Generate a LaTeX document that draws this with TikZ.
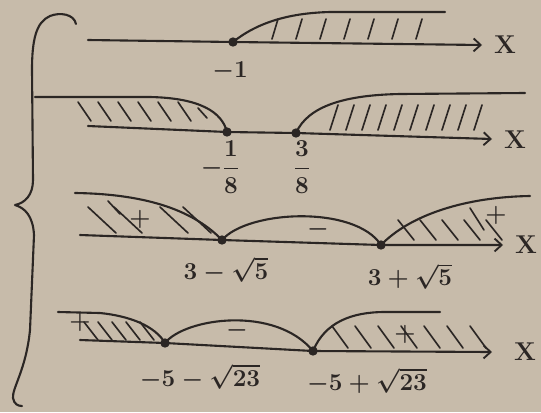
\documentclass[tikz,border=0pt]{standalone}
\usepackage{amsmath}
\usetikzlibrary{arrows.meta,positioning}
\definecolor{Paper}{HTML}{C7BBAA}
\definecolor{Ink}{HTML}{2B2624}

\begin{document}
\begin{tikzpicture}[
  x=0.03cm, y=-0.03cm,
  pen/.style   = {draw=Ink, line width=1.8pt, line cap=round, line join=round},
  axis/.style  = {pen, -{Straight Barb[length=6pt, width=11pt, line width=1.6pt]}},
  hatch/.style = {draw=Ink, line width=1.4pt, line cap=round},
  dot/.style   = {circle, fill=Ink, inner sep=0pt, minimum size=8pt},
  lbl/.style   = {font=\fontsize{22}{26}\selectfont\bfseries\boldmath, text=Ink, inner sep=1pt},
  sgn/.style   = {font=\fontsize{20}{22}\selectfont\boldmath, text=Ink, inner sep=0pt}
]
\fill[Paper] (0,0) rectangle (541,412);
\useasboundingbox (0,0) rectangle (541,412);

%% ---- the brace joining the four conditions -----------------------------
\draw[pen] (76,24) .. controls (74,14) and (60,12) .. (50,16)
  .. controls (36,22) and (32,40) .. (32,70) -- (33,180)
  .. controls (33,195) and (25,203) .. (15,205)
  .. controls (25,208) and (33,216) .. (34,235) -- (30,330)
  .. controls (26,370) and (12,388) .. (13,398)
  .. controls (14,404) and (18,406) .. (22,406);

%% ---- row 1: x >= -1 -----------------------------------------------------
\coordinate (a1) at (233,42);
\draw[axis] (88,40) -- (a1) -- (482,45);
\node[lbl] (xa) at (505,45) {X};
\draw[pen] (a1) .. controls (258,22) and (290,13) .. (330,12) -- (445,12);
\foreach \h in {272,296,...,420}
  \draw[hatch] (\h,39) -- (\h+6,19);
\node[dot] (pa1) at (a1) {};
\node[lbl] (la1) at (230,71) {$-1$};

%% ---- row 2: x <= -1/8 or x >= 3/8 ---------------------------------------
\coordinate (b1) at (227,132);
\coordinate (b2) at (296,133);
\draw[axis] (88,126) -- (b1) -- (b2) -- (492,139);
\node[lbl] (xb) at (515,140) {X};
\draw[pen] (35,97) -- (150,97) .. controls (200,98) and (222,112) .. (b1);
\foreach \h in {78,98,...,178}
  \draw[hatch] (\h,102) -- (\h+13,121);
\draw[hatch] (198,108) -- (207,118);
\draw[pen] (b2) .. controls (308,106) and (345,95) .. (400,94) -- (525,93);
\foreach \h in {330,346,...,474}
  \draw[hatch] (\h,130) -- (\h+8,105);
\node[dot] (pb1) at (b1) {};
\node[dot] (pb2) at (b2) {};
\node[lbl] (lb1) at (220,167) {$-\dfrac{1}{8}$};
\node[lbl] (lb2) at (302,167) {$\dfrac{3}{8}$};

%% ---- row 3: signs of the quadratic with roots 3 -+ sqrt5 ----------------
\coordinate (c1) at (222,240);
\coordinate (c2) at (381,245);
\draw[axis] (80,235) -- (c1) -- (c2) -- (503,245);
\node[lbl] (xc) at (526,245) {X};
\draw[pen] (75,193) .. controls (150,194) and (195,212) .. (c1);
\draw[pen] (c1) .. controls (248,210) and (355,205) .. (c2);
\draw[pen] (c2) .. controls (410,215) and (465,197) .. (530,196);
\foreach \h in {88,114,160,183}
  \draw[hatch] (\h,207) -- (\h+28,233);
\draw[hatch] (108,201) -- (120,214);
\foreach \h in {398,420,...,486}
  \draw[hatch] (\h,220) -- (\h+16,240);
\draw[hatch] (470,208) -- (484,230);
\node[sgn] (pc1) at (140,219) {$+$};
\node[sgn] (mc) at (318,229) {$-$};
\node[sgn] (pc2) at (496,215) {$+$};
\node[dot] (qc1) at (c1) {};
\node[dot] (qc2) at (c2) {};
\node[lbl] (lc1) at (226,270) {$3-\sqrt{5}$};
\node[lbl] (lc2) at (410,276) {$3+\sqrt{5}$};

%% ---- row 4: signs of the quadratic with roots -5 -+ sqrt23 --------------
\coordinate (d1) at (165,343);
\coordinate (d2) at (313,351);
\draw[axis] (80,340) -- (d1) -- (d2) -- (492,352);
\node[lbl] (xd) at (525,352) {X};
\draw[pen] (58,312) -- (100,313) .. controls (130,316) and (155,326) .. (d1);
\draw[pen] (d1) .. controls (185,318) and (275,305) .. (d2);
\draw[pen] (d2) .. controls (325,322) and (352,312) .. (385,312) -- (440,312);
\foreach \h in {84,98,...,150}
  \draw[hatch] (\h,322) -- (\h+14,340);
\foreach \h in {332,355,...,470}
  \draw[hatch] (\h,326) -- (\h+16,348);
\node[sgn] (pd1) at (80,322) {$+$};
\node[sgn] (md) at (237,330) {$-$};
\node[sgn] (pd2) at (405,334) {$+$};
\node[dot] (qd1) at (d1) {};
\node[dot] (qd2) at (d2) {};
\node[lbl] (ld1) at (200,377) {$-5-\sqrt{23}$};
\node[lbl] (ld2) at (367,381) {$-5+\sqrt{23}$};

\end{tikzpicture}
\end{document}
